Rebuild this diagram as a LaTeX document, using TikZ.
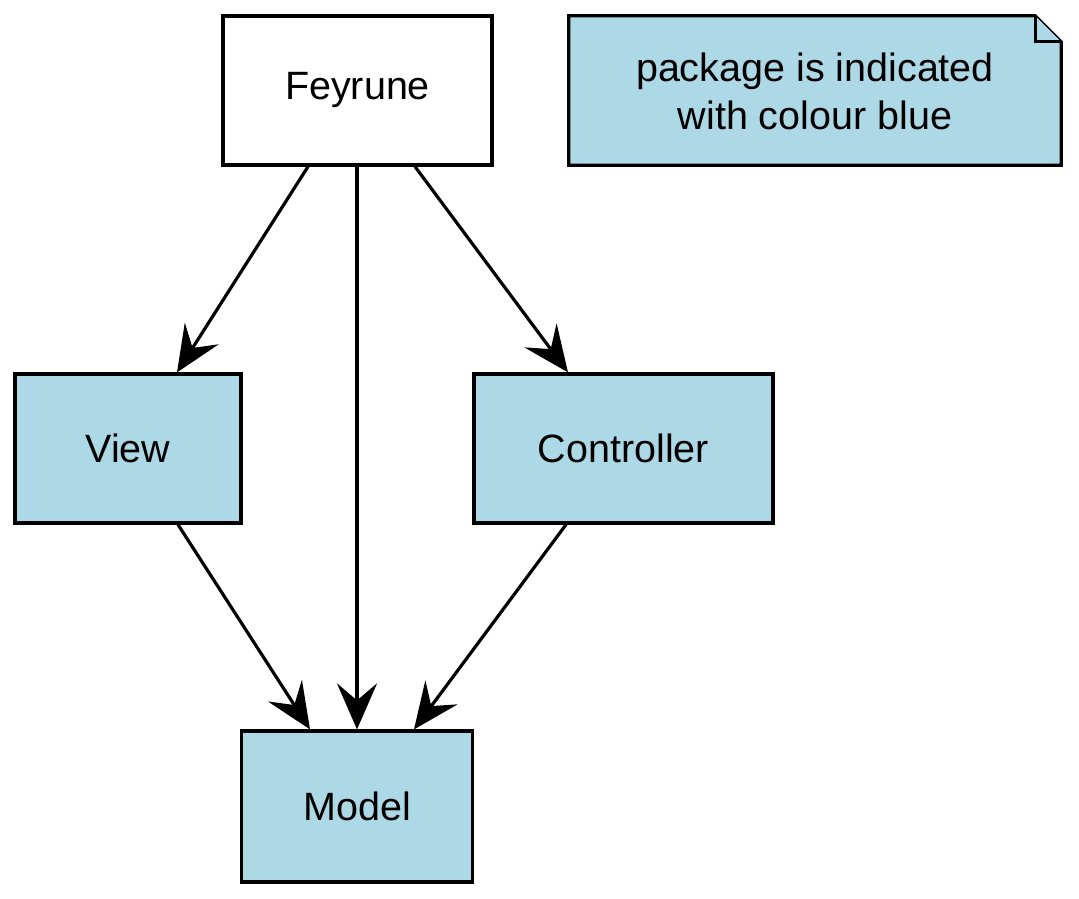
\documentclass[tikz,border=0pt]{standalone}
\usepackage{fontspec}
\setmainfont{Liberation Sans}
\usetikzlibrary{arrows.meta}
\definecolor{pkgblue}{HTML}{ADD8E6}
\tikzset{
  txt/.style={font=\fontsize{39.5}{48}\selectfont},
  box/.style={draw, line width=3.2pt, minimum height=149pt, inner sep=0pt, txt},
  pkg/.style={box, fill=pkgblue},
  dep/.style={line width=3.2pt, -{Stealth[length=46pt,width=40pt,inset=17pt]}},
}
\begin{document}
\begin{tikzpicture}[x=1pt,y=-1pt]
\useasboundingbox (0,0) rectangle (1079,899);
\node[box, minimum width=269pt] (F) at (357.5,90.5) {Feyrune};
\node[pkg, minimum width=226pt] (V) at (128,448.5) {View};
\node[pkg, minimum width=299pt] (C) at (623.5,448.5) {Controller};
\node[pkg, minimum width=231pt, minimum height=151pt] (M) at (357,806.5) {Model};
% note
\node[minimum width=492pt, minimum height=149pt, inner sep=0pt] (N) at (815,90.5) {};
\draw[line width=3.2pt, fill=pkgblue, line join=miter]
  (N.north west) -- ([xshift=-26pt]N.north east) -- ([yshift=-26pt]N.north east)
  -- (N.south east) -- (N.south west) -- cycle;
\draw[line width=3.2pt, fill=pkgblue, line join=miter]
  ([xshift=-26pt]N.north east) -- ([xshift=-26pt,yshift=-26pt]N.north east) -- ([yshift=-26pt]N.north east);
\node[align=center, txt] (NT) at ([yshift=-1pt]N.center) {package is indicated\\with colour blue};
% edges
\draw[dep] ([xshift=-49.5pt]F.south) -- ([xshift=49pt]V.north);
\draw[dep] ([xshift=-0.5pt]F.south) -- (M.north);
\draw[dep] ([xshift=57.5pt]F.south) -- ([xshift=-55.5pt]C.north);
\draw[dep] ([xshift=50pt]V.south) -- ([xshift=-47pt]M.north);
\draw[dep] ([xshift=-57.5pt]C.south) -- ([xshift=57pt]M.north);
\end{tikzpicture}
\end{document}
